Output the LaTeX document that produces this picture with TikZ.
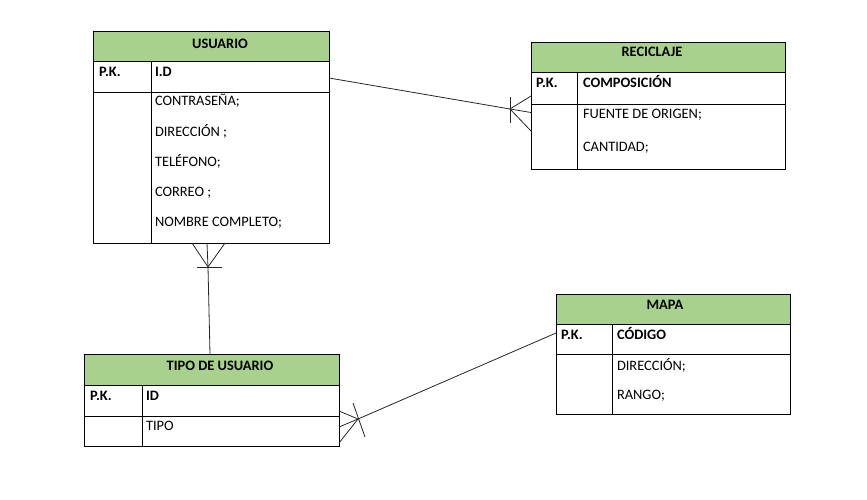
\documentclass[tikz,border=0pt]{standalone}
\usepackage{fontspec}
\setmainfont{Carlito}
\definecolor{hdrgreen}{HTML}{A9D18E}
\begin{document}
\begin{tikzpicture}[x=1pt,y=-1pt,
  every node/.style={font=\fontsize{14.4}{16}\selectfont, inner sep=0pt, outer sep=0pt},
  tline/.style={line width=0.9pt, draw=black},
  hdrbox/.style={fill=hdrgreen, draw=black, line width=0.9pt},
  hdrtxt/.style={anchor=base, font=\fontsize{14.4}{16}\selectfont\bfseries},
  keytxt/.style={anchor=base west, font=\fontsize{14.4}{16}\selectfont\bfseries},
  attr/.style={anchor=base west},
  conn/.style={line width=0.8pt, draw=black!85}
]
\useasboundingbox (0,0) rectangle (867,500);

% ---------------- USUARIO ----------------
\filldraw[hdrbox] (93,31) rectangle (329,61);
\draw[tline] (93,31) rectangle (329,243);
\draw[tline] (93,61) -- (329,61) (93,92) -- (329,92) (151,61) -- (151,243);
\node[draw=none, minimum width=236pt, minimum height=212pt, anchor=north west] (usuario) at (93,31) {};
\node[hdrtxt] (usuarioT) at (220,49) {USUARIO};
\node[keytxt] (usuarioPK) at (99,77) {P.K.};
\node[keytxt] (usuarioID) at (155,77) {I.D};
\node[attr] (u1) at (155,106) {CONTRASEÑA;};
\node[attr] (u2) at (155,136) {DIRECCIÓN ;};
\node[attr] (u3) at (155,166) {TELÉFONO;};
\node[attr] (u4) at (155,196) {CORREO ;};
\node[attr] (u5) at (155,226) {NOMBRE COMPLETO;};

% ---------------- RECICLAJE ----------------
\filldraw[hdrbox] (531,42) rectangle (785,72);
\draw[tline] (531,42) rectangle (785,169);
\draw[tline] (531,72) -- (785,72) (531,104) -- (785,104) (577,72) -- (577,169);
\node[draw=none, minimum width=254pt, minimum height=127pt, anchor=north west] (reciclaje) at (531,42) {};
\node[hdrtxt] (reciclajeT) at (652,57) {RECICLAJE};
\node[keytxt] (reciclajePK) at (536,88) {P.K.};
\node[keytxt] (reciclajeID) at (583,88) {COMPOSICIÓN};
\node[attr] (r1) at (583,119) {FUENTE DE ORIGEN;};
\node[attr] (r2) at (583,151) {CANTIDAD;};

% ---------------- MAPA ----------------
\filldraw[hdrbox] (556,294) rectangle (790,324);
\draw[tline] (556,294) rectangle (790,414);
\draw[tline] (556,324) -- (790,324) (556,354) -- (790,354) (612,324) -- (612,414);
\node[draw=none, minimum width=234pt, minimum height=120pt, anchor=north west] (mapa) at (556,294) {};
\node[hdrtxt] (mapaT) at (665,309) {MAPA};
\node[keytxt] (mapaPK) at (561,339) {P.K.};
\node[keytxt] (mapaID) at (617,339) {CÓDIGO};
\node[attr] (m1) at (617,370) {DIRECCIÓN;};
\node[attr] (m2) at (617,399) {RANGO;};

% ---------------- TIPO DE USUARIO ----------------
\filldraw[hdrbox] (84,354) rectangle (339,385);
\draw[tline] (84,354) rectangle (339,446);
\draw[tline] (84,385) -- (339,385) (84,416) -- (339,416) (142,385) -- (142,446);
\node[draw=none, minimum width=255pt, minimum height=92pt, anchor=north west] (tipo) at (84,354) {};
\node[hdrtxt] (tipoT) at (220,370) {TIPO DE USUARIO};
\node[keytxt] (tipoPK) at (90,400) {P.K.};
\node[keytxt] (tipoID) at (146,400) {ID};
\node[attr] (t1) at (146,430) {TIPO};

% ---------------- connectors ----------------
% USUARIO -- RECICLAJE (many at RECICLAJE)
\coordinate (c1s) at (usuario.east |- 0,78);
\coordinate (c1a) at (510,109);
\coordinate (c1b1) at (510,97);
\coordinate (c1b2) at (510,123);
\coordinate (c1t1) at (reciclaje.west |- 0,96);
\coordinate (c1t2) at (reciclaje.west |- 0,112.5);
\coordinate (c1t3) at (reciclaje.west |- 0,131);
\draw[conn] (c1s) -- (c1a) -- (c1t2);
\draw[conn] (c1t1) -- (c1a) -- (c1t3);
\draw[conn] (c1b1) -- (c1b2);

% USUARIO -- TIPO DE USUARIO (many at USUARIO)
\coordinate (c2s) at (tipo.north -| 210,0);
\coordinate (c2a) at (208,267);
\coordinate (c2b1) at (197,267);
\coordinate (c2b2) at (222,267);
\coordinate (c2t1) at (usuario.south -| 192,0);
\coordinate (c2t2) at (usuario.south -| 207,0);
\coordinate (c2t3) at (usuario.south -| 225,0);
\draw[conn] (c2s) -- (c2a) -- (c2t2);
\draw[conn] (c2t1) -- (c2a) -- (c2t3);
\draw[conn] (c2b1) -- (c2b2);

% MAPA -- TIPO DE USUARIO (many at TIPO)
\coordinate (c3s) at (mapa.west |- 0,333);
\coordinate (c3a) at (358,419);
\coordinate (c3b1) at (353,403);
\coordinate (c3b2) at (365,437);
\coordinate (c3t1) at (tipo.east |- 0,411);
\coordinate (c3t2) at (tipo.east |- 0,427);
\coordinate (c3t3) at (tipo.east |- 0,443);
\draw[conn] (c3s) -- (c3a) -- (c3t2);
\draw[conn] (c3t1) -- (c3a) -- (c3t3);
\draw[conn] (c3b1) -- (c3b2);
\end{tikzpicture}
\end{document}
